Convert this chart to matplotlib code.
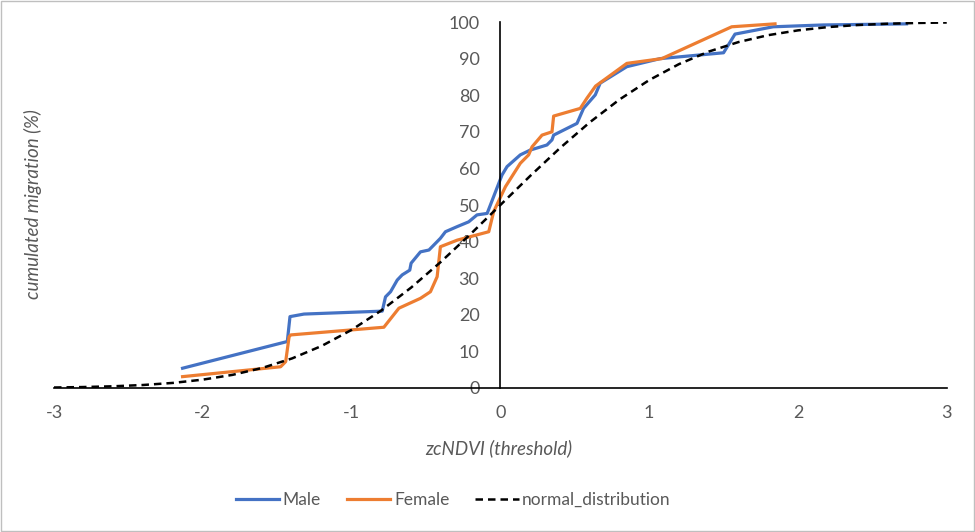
import matplotlib.pyplot as plt

# Male cumulated migration vs zcNDVI threshold
male_x = [-2.136, -1.432, -1.414, -1.32, -0.794, -0.772, -0.738, -0.693, -0.66, -0.609,
          -0.6, -0.537, -0.48, -0.403, -0.369, -0.29, -0.213, -0.157, -0.089, 0.011,
          0.045, 0.134, 0.2, 0.313, 0.347, 0.358, 0.515, 0.559, 0.638, 0.671,
          0.85, 1.074, 1.5, 1.577, 1.834, 2.17, 2.73]
male_y = [5.4, 12.7, 19.5, 20.2, 21.0, 24.9, 26.3, 29.5, 30.9, 32.2,
          34.1, 37.2, 37.7, 40.9, 42.7, 44.1, 45.4, 47.3, 47.7, 58.2,
          60.5, 63.7, 65.0, 66.4, 67.8, 69.1, 72.3, 76.4, 80.1, 83.3,
          87.8, 90.0, 91.6, 96.7, 98.7, 99.2, 99.5]

female_x = [-2.136, -1.477, -1.443, -1.42, -1.409, -0.783, -0.682, -0.537, -0.47, -0.425,
            -0.403, -0.29, -0.078, -0.045, 0.034, 0.134, 0.19, 0.213, 0.28, 0.347,
            0.358, 0.537, 0.582, 0.64, 0.85, 1.085, 1.555, 1.846]
female_y = [3.1, 5.8, 7.2, 14.0, 14.5, 16.6, 21.8, 24.5, 26.3, 30.4,
            38.6, 40.4, 42.7, 48.2, 55.0, 61.4, 63.7, 65.9, 69.1, 70.0,
            74.3, 76.4, 79.2, 82.5, 88.7, 90.0, 98.7, 99.5]

normal_x = [-3.0, -2.8, -2.6, -2.4, -2.2, -2.0, -1.8, -1.6, -1.4, -1.2, -1.0,
            -0.8, -0.6, -0.4, -0.2, 0.0, 0.2, 0.4, 0.6, 0.8, 1.0,
            1.2, 1.4, 1.6, 1.8, 2.0, 2.2, 2.4, 2.6, 2.8, 3.0]
normal_y = [0.13, 0.26, 0.47, 0.82, 1.39, 2.28, 3.59, 5.48, 8.08, 11.51, 15.87,
            21.19, 27.43, 34.46, 42.07, 50.0, 57.93, 65.54, 72.57, 78.81, 84.13,
            88.49, 91.92, 94.52, 96.41, 97.72, 98.61, 99.18, 99.53, 99.74, 99.87]

x_ticks = [-3, -2, -1, 0, 1, 2, 3]
y_ticks = [0, 10, 20, 30, 40, 50, 60, 70, 80, 90, 100]

plt.rcParams['font.family'] = ['Lato', 'DejaVu Sans']
plt.rcParams['axes.unicode_minus'] = False
grey = '#595959'

fig = plt.figure(figsize=(9.75, 5.32), dpi=100)
ax = fig.add_axes([0.0554, 0.2707, 0.9156, 0.6879])

ax.plot(male_x, male_y, color='#4472C4', lw=2.3, label='Male', solid_joinstyle='round')
ax.plot(female_x, female_y, color='#ED7D31', lw=2.3, label='Female', solid_joinstyle='round')
ax.plot(normal_x, normal_y, color='black', lw=1.8, ls=(0, (3, 2)), label='normal_distribution')

ax.set_xlim(-3, 3)
ax.set_ylim(0, 100)
ax.set_xticks(x_ticks)
ax.set_yticks(y_ticks)
ax.tick_params(length=0, labelsize=13, labelcolor=grey)
ax.tick_params(axis='y', pad=15)
ax.tick_params(axis='x', pad=12)

ax.spines['left'].set_position(('data', 0))
ax.spines['right'].set_visible(False)
ax.spines['top'].set_visible(False)
for s in ('left', 'bottom'):
    ax.spines[s].set_color('black')
    ax.spines[s].set_linewidth(1.2)

fig.text(0.034, 0.617, 'cumulated migration (%)', rotation=90, style='italic',
         fontsize=13.5, color=grey, ha='center', va='center')
fig.text(0.512, 0.158, 'zcNDVI (threshold)', style='italic',
         fontsize=13.5, color=grey, ha='center', va='center')

fig.legend(loc='center', bbox_to_anchor=(0.465, 0.06), ncol=3, frameon=False,
           fontsize=12.5, labelcolor=grey, handlelength=2.5, columnspacing=1.5,
           handletextpad=0.2)

fig.patches.append(plt.Rectangle((0.001, 0.001), 0.998, 0.997, transform=fig.transFigure,
                                 fill=False, edgecolor='#bfbfbf', lw=1))

fig.savefig('out.png', dpi=100)
